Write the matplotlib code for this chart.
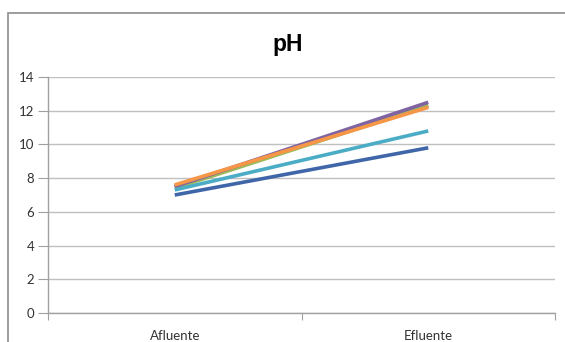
import matplotlib
matplotlib.use("Agg")
import matplotlib.pyplot as plt
from matplotlib.patches import Rectangle

categories = ["Afluente", "Efluente"]
series_colors = ["#3F66A8", "#C0504D", "#9BBB59", "#8064A2", "#4BACC6", "#F79646"]
series_values = [
    [7.0, 9.8],
    [7.5, 12.3],
    [7.4, 12.3],
    [7.5, 12.5],
    [7.3, 10.8],
    [7.6, 12.2],
]
y_ticks = [0, 2, 4, 6, 8, 10, 12, 14]

W, H = 565, 342
fig = plt.figure(figsize=(W / 100, H / 100), dpi=100)
fig.patch.set_facecolor("white")

# chart frame
fig.patches.append(Rectangle((8 / W, -0.1), 1.0, (H - 13) / H + 0.1,
                             transform=fig.transFigure, fill=False,
                             edgecolor="#8C8C8C", linewidth=1.2))

ax = fig.add_axes([48 / W, (H - 313) / H, (555 - 48) / W, (313 - 77) / H])
ax.set_xlim(0, len(categories))
ax.set_ylim(0, 14)

xs = [i + 0.5 for i in range(len(categories))]
for vals, col in zip(series_values, series_colors):
    ax.plot(xs, vals, color=col, linewidth=2.6, solid_capstyle="butt")

ax.set_yticks(y_ticks)
ax.set_yticklabels([str(v) for v in y_ticks], fontsize=9.5, color="#333333",
                   family="Lato")
ax.yaxis.grid(True, color="#C0C0C0", linewidth=1)
ax.set_axisbelow(True)

ax.set_xticks(range(len(categories) + 1))
ax.set_xticklabels([])
ax.set_xticks(xs, minor=True)
ax.set_xticklabels(categories, minor=True, fontsize=9.5, color="#333333",
                   family="Lato")
ax.tick_params(axis="x", which="minor", length=0, pad=12)
ax.tick_params(axis="x", which="major", length=5, color="#A0A0A0")
ax.tick_params(axis="y", length=7, color="#A0A0A0", pad=3)

for s in ["top", "right"]:
    ax.spines[s].set_visible(False)
for s in ["left", "bottom"]:
    ax.spines[s].set_color("#A0A0A0")
    ax.spines[s].set_linewidth(1)

fig.text(288 / W, (H - 45) / H, "pH", ha="center", va="center",
         fontsize=16.5, fontweight="bold", family="Liberation Sans")

fig.savefig("out.png", dpi=100)
